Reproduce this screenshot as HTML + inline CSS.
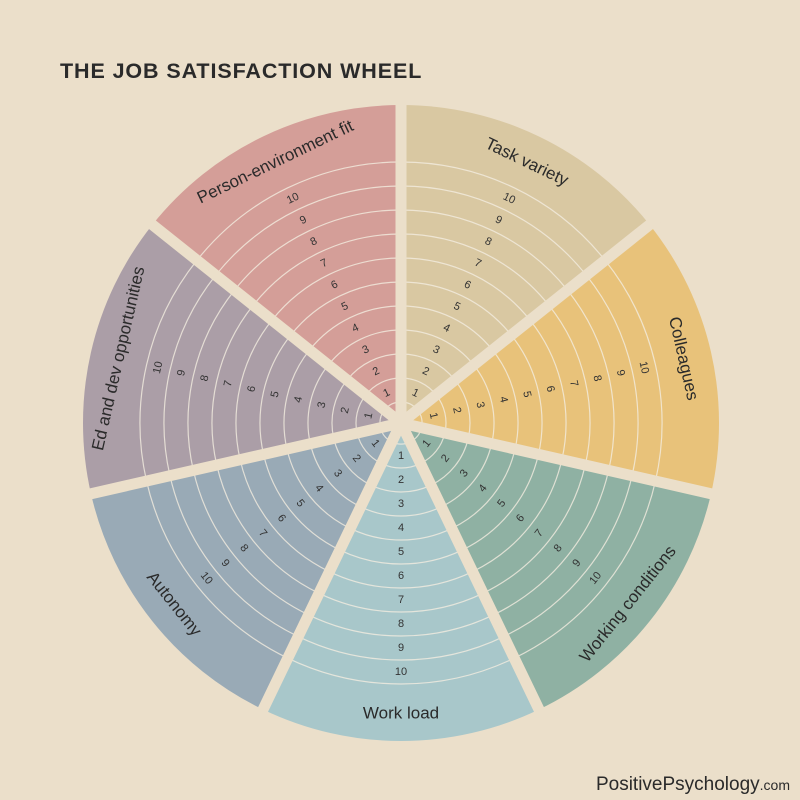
<!DOCTYPE html>
<html><head><meta charset="utf-8"><style>
html,body{margin:0;padding:0;background:#ebdfca;}
svg{display:block;font-family:"Liberation Sans",sans-serif;}
</style></head><body>
<svg id="s" width="800" height="800" viewBox="0 0 800 800" xmlns="http://www.w3.org/2000/svg">
<rect width="800" height="800" fill="#ebdfca"/>
<text x="60" y="78" font-size="21.5" font-weight="bold" fill="#2a2a2a" letter-spacing="0.9">THE JOB SATISFACTION WHEEL</text>
<text x="790" y="790" text-anchor="end" fill="#2a2a2a"><tspan font-size="19">PositivePsychology</tspan><tspan font-size="14">.com</tspan></text>
<g id="w"></g>
</svg>
<script>
var cx=401,cy=423,R=318,NS="http://www.w3.org/2000/svg";
var g=document.getElementById('w');
function P(r,a){a=a*Math.PI/180;return [cx+r*Math.sin(a),cy-r*Math.cos(a)];}
function el(n,at,t){var e=document.createElementNS(NS,n);for(var k in at)e.setAttribute(k,at[k]);if(t)e.textContent=t;g.appendChild(e);return e;}
var segs=[["Task variety","#d9c8a2"],["Colleagues","#e8c27a"],["Working conditions","#8fb1a3"],["Work load","#a8c7ca"],["Autonomy","#99aab6"],["Ed and dev opportunities","#ab9ea7"],["Person-environment fit","#d49e98"]];
var W=360/7;
segs.forEach(function(s,i){
 var a0=i*W,a1=(i+1)*W,m=a0+W/2;
 var p0=P(R,a0),p1=P(R,a1);
 el('path',{d:'M'+cx+','+cy+'L'+p0+'A'+R+','+R+' 0 0 1 '+p1+'Z',fill:s[1]});
 for(var k=0;k<=10;k++){var r=21+24*k;var q0=P(r,a0),q1=P(r,a1);
  el('path',{d:'M'+q0+'A'+r+','+r+' 0 0 1 '+q1,fill:'none',stroke:'#f3ece0','stroke-width':1.2,opacity:0.8});}
 var rot=(m>90&&m<270)?m-180:m;
 for(var k=1;k<=10;k++){var p=P(33+24*(k-1),m);
  el('text',{x:p[0],y:p[1],'font-size':11,fill:'#333','text-anchor':'middle','dominant-baseline':'central',transform:'rotate('+rot+' '+p[0]+' '+p[1]+')'},String(k));}
 var lp=P(290,m);
 el('text',{x:lp[0],y:lp[1],'font-size':17,fill:'#2a2a2a','text-anchor':'middle','dominant-baseline':'central',transform:'rotate('+rot+' '+lp[0]+' '+lp[1]+')'},s[0]);
});
for(var i=0;i<7;i++){var p=P(R+10,i*W);el('line',{x1:cx,y1:cy,x2:p[0],y2:p[1],stroke:'#ebdfca','stroke-width':11});}
el('circle',{cx:cx,cy:cy,r:12,fill:'#ebdfca'});
</script>
</body></html>
